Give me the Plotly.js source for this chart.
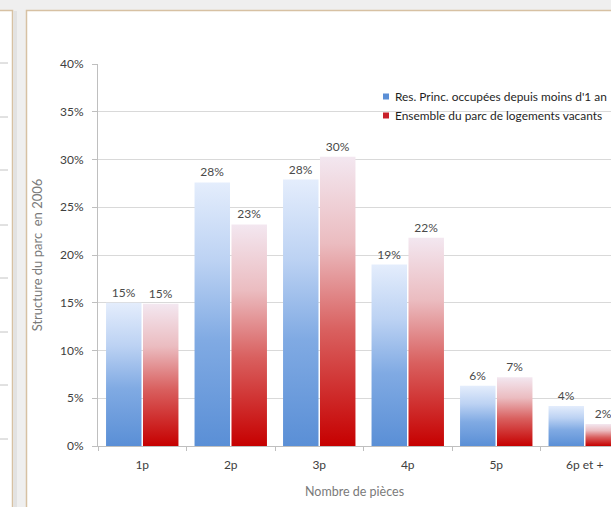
<!DOCTYPE html>
<html>
<head>
<meta charset="utf-8">
<script src="https://cdn.plot.ly/plotly-3.0.1.min.js"></script>
<style>
  html, body { margin: 0; padding: 0; background: #efefef; overflow: hidden; }
  #chart { width: 611px; height: 507px; }
</style>
</head>
<body>
<div id="chart"></div>
<script>
const categories = ['1p', '2p', '3p', '4p', '5p', '6p et +'];
const seriesNames = ['Res. Princ. occupées depuis moins d\'1 an', 'Ensemble du parc de logements vacants'];
const resPrinc = [15.0, 27.6, 27.9, 19.0, 6.3, 4.2];
const vacants = [14.9, 23.2, 30.3, 21.8, 7.2, 2.3];
const yTickVals = [0, 5, 10, 15, 20, 25, 30, 35, 40];
const yTickText = ['0%', '5%', '10%', '15%', '20%', '25%', '30%', '35%', '40%'];

const FONT = 'Lato, "Liberation Sans", Arial, sans-serif';
const W = 611, H = 507, ML = 98, MR = 0, MT = 64, MB = 61;
const PW = W - ML - MR, PH = H - MT - MB;
const px = x => (x - ML) / PW;
const py = y => (H - MB - y) / PH;

const data = [
  {
    type: 'bar', name: seriesNames[0], x: categories, y: resPrinc,
    marker: { color: '#5b8fd6' },
    texttemplate: '%{y:.0f}%', textposition: 'outside',
    textfont: { family: FONT, size: 12, color: '#4a4a4a' },
    hoverinfo: 'none'
  },
  {
    type: 'bar', name: seriesNames[1], x: categories, y: vacants,
    marker: { color: '#c8202a' },
    texttemplate: '%{y:.0f}%', textposition: 'outside',
    textfont: { family: FONT, size: 12, color: '#4a4a4a' },
    hoverinfo: 'none'
  }
];

const stubYs = [63, 117, 170, 225, 278, 332, 385, 439];
const shapes = [
  { type: 'rect', xref: 'paper', yref: 'paper', layer: 'below',
    x0: px(26.5), x1: px(680), y0: py(560), y1: py(10.5),
    fillcolor: '#ffffff', line: { color: '#d7c1a3', width: 1.5 } },
  { type: 'rect', xref: 'paper', yref: 'paper', layer: 'below',
    x0: px(-20), x1: px(12.5), y0: py(560), y1: py(10.5),
    fillcolor: '#ffffff', line: { color: '#d7c1a3', width: 1.5 } },
  { type: 'rect', xref: 'paper', yref: 'paper', layer: 'below',
    x0: px(13.5), x1: px(17), y0: py(560), y1: py(11),
    fillcolor: '#e2e2e2', line: { width: 0 } }
].concat(stubYs.map(y => ({
  type: 'line', xref: 'paper', yref: 'paper', layer: 'below',
  x0: px(0), x1: px(8), y0: py(y), y1: py(y),
  line: { color: '#c4c4c4', width: 1 }
})));

const layout = {
  width: W, height: H,
  margin: { l: ML, r: MR, t: MT, b: MB, pad: 0, autoexpand: false },
  paper_bgcolor: '#efefef',
  plot_bgcolor: 'rgba(0,0,0,0)',
  font: { family: FONT, size: 12, color: '#404040' },
  barmode: 'group',
  bargap: 0.165,
  bargroupgap: 0.04,
  showlegend: true,
  legend: {
    x: px(355), y: py(82), xanchor: 'left', yanchor: 'top',
    bgcolor: 'rgba(0,0,0,0)',
    font: { family: FONT, size: 11.9, color: '#1f1f1f' },
    itemwidth: 30, tracegroupgap: 0
  },
  xaxis: {
    range: [-0.5, -0.5 + PW / 88.5],
    showgrid: false,
    showline: true, linecolor: '#bfbfbf', linewidth: 1,
    ticks: 'outside', tickson: 'boundaries', ticklen: 4, tickcolor: '#bfbfbf',
    ticklabelstandoff: 8,
    tickfont: { family: FONT, size: 12, color: '#404040' },
    title: { text: 'Nombre de pièces', standoff: 15,
             font: { family: FONT, size: 12.5, color: '#7a7a7a' } },
    automargin: false, fixedrange: true
  },
  yaxis: {
    range: [0, 40],
    tickvals: yTickVals, ticktext: yTickText,
    showgrid: true, gridcolor: '#d9d9d9', gridwidth: 1,
    zeroline: false,
    showline: true, linecolor: '#bfbfbf', linewidth: 1,
    ticks: 'outside', ticklen: 5, tickcolor: '#bfbfbf',
    ticklabelstandoff: 6,
    tickfont: { family: FONT, size: 12, color: '#404040' },
    title: { text: 'Structure du parc  en 2006', standoff: 14,
             font: { family: FONT, size: 13, color: '#7a7a7a' } },
    automargin: false, fixedrange: true
  },
  shapes: shapes
};

function applyGradients(gd) {
  const svg = gd.querySelector('svg.main-svg');
  const NS = 'http://www.w3.org/2000/svg';
  const defs = document.createElementNS(NS, 'defs');
  const grads = {
    gradBlue: [[0, '#e4edfc'], [0.3, '#bcd2f3'], [0.6, '#80aae3'], [1, '#5a8fd6']],
    gradRed: [[0, '#f3e7f0'], [0.3, '#ebbcc0'], [0.6, '#d9605f'], [1, '#c60000']]
  };
  Object.keys(grads).forEach(id => {
    const g = document.createElementNS(NS, 'linearGradient');
    g.setAttribute('id', id);
    g.setAttribute('x1', '0'); g.setAttribute('y1', '0');
    g.setAttribute('x2', '0'); g.setAttribute('y2', '1');
    grads[id].forEach(([o, c]) => {
      const s = document.createElementNS(NS, 'stop');
      s.setAttribute('offset', o);
      s.setAttribute('stop-color', c);
      g.appendChild(s);
    });
    defs.appendChild(g);
  });
  svg.insertBefore(defs, svg.firstChild);
  const ids = ['gradBlue', 'gradRed'];
  gd.querySelectorAll('.barlayer .trace').forEach((t, i) => {
    t.querySelectorAll('.point path').forEach(p => {
      p.style.fill = 'url(#' + ids[i] + ')';
    });
  });
  gd.querySelectorAll('.legend .traces').forEach(t => {
    const lp = t.querySelector('.legendpoints');
    if (lp) {
      lp.setAttribute('transform', 'translate(11,0)');
      lp.querySelectorAll('path').forEach(p => p.setAttribute('d', 'M3,3H-3V-3H3Z'));
    }
  });
}

Plotly.newPlot('chart', data, layout, { staticPlot: true, displayModeBar: false })
  .then(applyGradients);
</script>
</body>
</html>
